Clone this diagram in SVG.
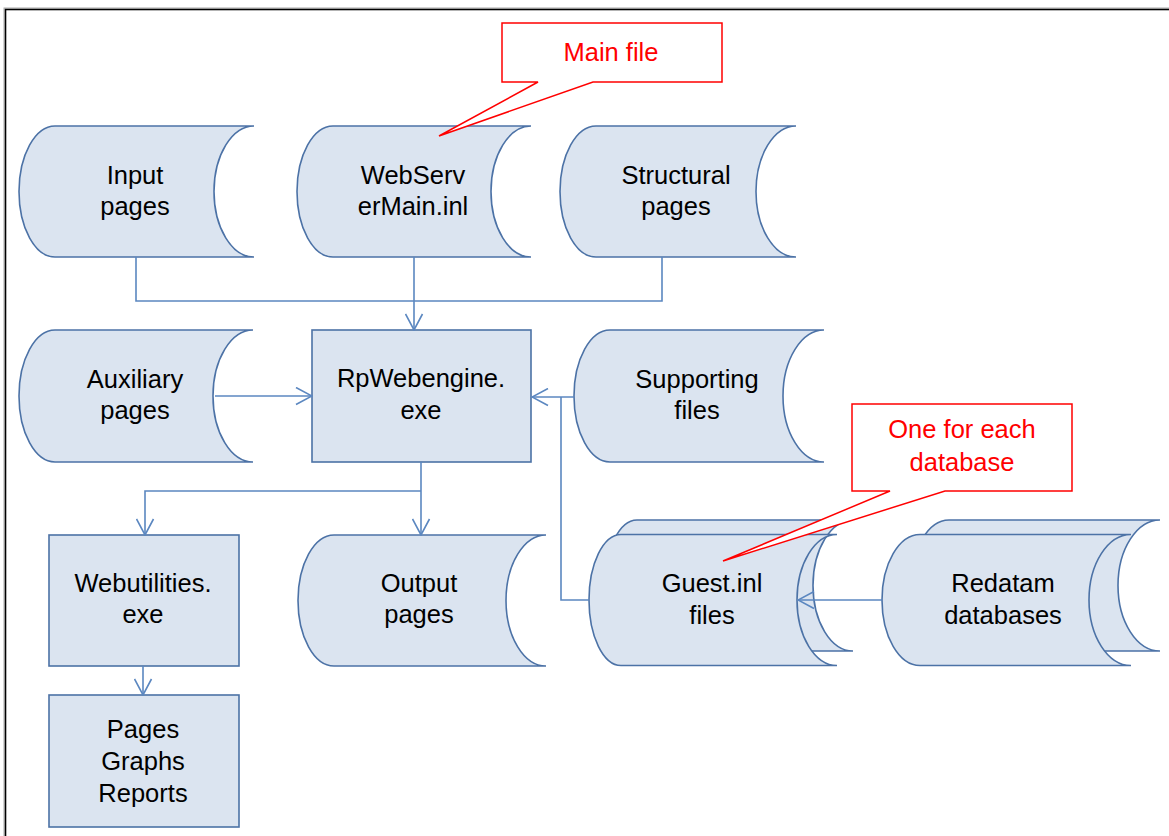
<svg xmlns="http://www.w3.org/2000/svg" width="1169" height="836" viewBox="0 0 1169 836">
<style>
  .shape { fill: #dbe4f0; stroke: #4c72a6; stroke-width: 1.6; }
  .conn { fill: none; stroke: #5b87c0; stroke-width: 1.6; }
  .lbl { font-family: "Liberation Sans", Arial, sans-serif; font-size: 25.5px; fill: #000; text-anchor: middle; }
  .call { fill: #fff; stroke: #ff0000; stroke-width: 1.5; }
  .ctext { font-family: "Liberation Sans", Arial, sans-serif; font-size: 25.5px; fill: #ff0000; text-anchor: middle; }
</style>
<defs>
  <marker id="arr" markerUnits="userSpaceOnUse" markerWidth="18" markerHeight="19" viewBox="-1 -1 18 19" refX="16" refY="8.5" orient="auto">
    <path d="M0,0 L16,8.5 L0,17" fill="none" stroke="#5b87c0" stroke-width="1.6"/>
  </marker>
</defs>
<rect x="0" y="0" width="1169" height="836" fill="#fff"/>
<rect x="4" y="8" width="1180" height="840" fill="none" stroke="#aaa" stroke-width="1"/>
<rect x="5.5" y="9.5" width="1180" height="840" fill="none" stroke="#000" stroke-width="1.6"/>

<g id="input-pages">
  <path class="shape" d="M55,126 L254,126 A40,65.5 0 0 0 254,257 L55,257 A36,65.5 0 0 1 55,126 Z"/>
  <text class="lbl" x="135" y="183.5">Input</text>
  <text class="lbl" x="135" y="214.5">pages</text>
</g>
<g id="webservermain">
  <path class="shape" d="M333,126 L531,126 A40,65.5 0 0 0 531,257 L333,257 A36,65.5 0 0 1 333,126 Z"/>
  <text class="lbl" x="413" y="183.5">WebServ</text>
  <text class="lbl" x="413" y="214.5">erMain.inl</text>
</g>
<g id="structural-pages">
  <path class="shape" d="M596,126 L796,126 A40,65.5 0 0 0 796,257 L596,257 A36,65.5 0 0 1 596,126 Z"/>
  <text class="lbl" x="676" y="183.5">Structural</text>
  <text class="lbl" x="676" y="214.5">pages</text>
</g>
<g id="auxiliary-pages">
  <path class="shape" d="M55,330 L253,330 A40,66 0 0 0 253,462 L55,462 A36,66 0 0 1 55,330 Z"/>
  <text class="lbl" x="135" y="388">Auxiliary</text>
  <text class="lbl" x="135" y="419">pages</text>
</g>
<g id="rpwebengine">
  <rect class="shape" x="312" y="330" width="219" height="132"/>
  <text class="lbl" x="421" y="387">RpWebengine.</text>
  <text class="lbl" x="421" y="419">exe</text>
</g>
<g id="supporting-files">
  <path class="shape" d="M610,330 L824,330 A41,66 0 0 0 824,462 L610,462 A36,66 0 0 1 610,330 Z"/>
  <text class="lbl" x="697" y="388">Supporting</text>
  <text class="lbl" x="697" y="419">files</text>
</g>
<g id="webutilities">
  <rect class="shape" x="49" y="535" width="190" height="131"/>
  <text class="lbl" x="143" y="592">Webutilities.</text>
  <text class="lbl" x="143" y="623">exe</text>
</g>
<g id="pages-graphs-reports">
  <rect class="shape" x="49" y="695" width="190" height="132"/>
  <text class="lbl" x="143" y="738">Pages</text>
  <text class="lbl" x="143" y="770">Graphs</text>
  <text class="lbl" x="143" y="802">Reports</text>
</g>
<g id="output-pages">
  <path class="shape" d="M334,535 L546,535 A40,65.5 0 0 0 546,666 L334,666 A36,65.5 0 0 1 334,535 Z"/>
  <text class="lbl" x="419" y="592">Output</text>
  <text class="lbl" x="419" y="623">pages</text>
</g>
<g id="guest-inl">
  <path class="shape" d="M637,520 L853,520 A40,65.5 0 0 0 853,651 L637,651 A32,65.5 0 0 1 637,520 Z"/>
  <path class="shape" d="M621,534.5 L837,534.5 A40,65.5 0 0 0 837,665.5 L621,665.5 A32,65.5 0 0 1 621,534.5 Z"/>
  <text class="lbl" x="712" y="592">Guest.inl</text>
  <text class="lbl" x="712" y="624">files</text>
</g>
<g id="redatam">
  <path class="shape" d="M949,520 L1160,520 A42,65.5 0 0 0 1160,651 L949,651 A38,65.5 0 0 1 949,520 Z"/>
  <path class="shape" d="M920,534.5 L1131,534.5 A42,65.5 0 0 0 1131,665.5 L920,665.5 A38,65.5 0 0 1 920,534.5 Z"/>
  <text class="lbl" x="1003" y="592">Redatam</text>
  <text class="lbl" x="1003" y="624">databases</text>
</g>

<g id="connectors">
  <path class="conn" d="M136,257 V301 H662 V257"/>
  <path class="conn" d="M414,257 V330" marker-end="url(#arr)"/>
  <path class="conn" d="M215,396 H312" marker-end="url(#arr)"/>
  <path class="conn" d="M574,397 H532" marker-end="url(#arr)"/>
  <path class="conn" d="M561,397 V600 H589"/>
  <path class="conn" d="M421,462 V535" marker-end="url(#arr)"/>
  <path class="conn" d="M421,491 H145 V535" marker-end="url(#arr)"/>
  <path class="conn" d="M143,666 V695" marker-end="url(#arr)"/>
  <path class="conn" d="M882,600 H798" marker-end="url(#arr)"/>
</g>

<g id="callout-main">
  <path class="call" d="M502,23 H722 V82 H593 L439,136 L538,82 H502 Z"/>
  <text class="ctext" x="611" y="61">Main file</text>
</g>
<g id="callout-guest">
  <path class="call" d="M852,404 H1072 V491 H945 L723,561 L890,491 H852 Z"/>
  <text class="ctext" x="962" y="438">One for each</text>
  <text class="ctext" x="962" y="471">database</text>
</g>
</svg>
